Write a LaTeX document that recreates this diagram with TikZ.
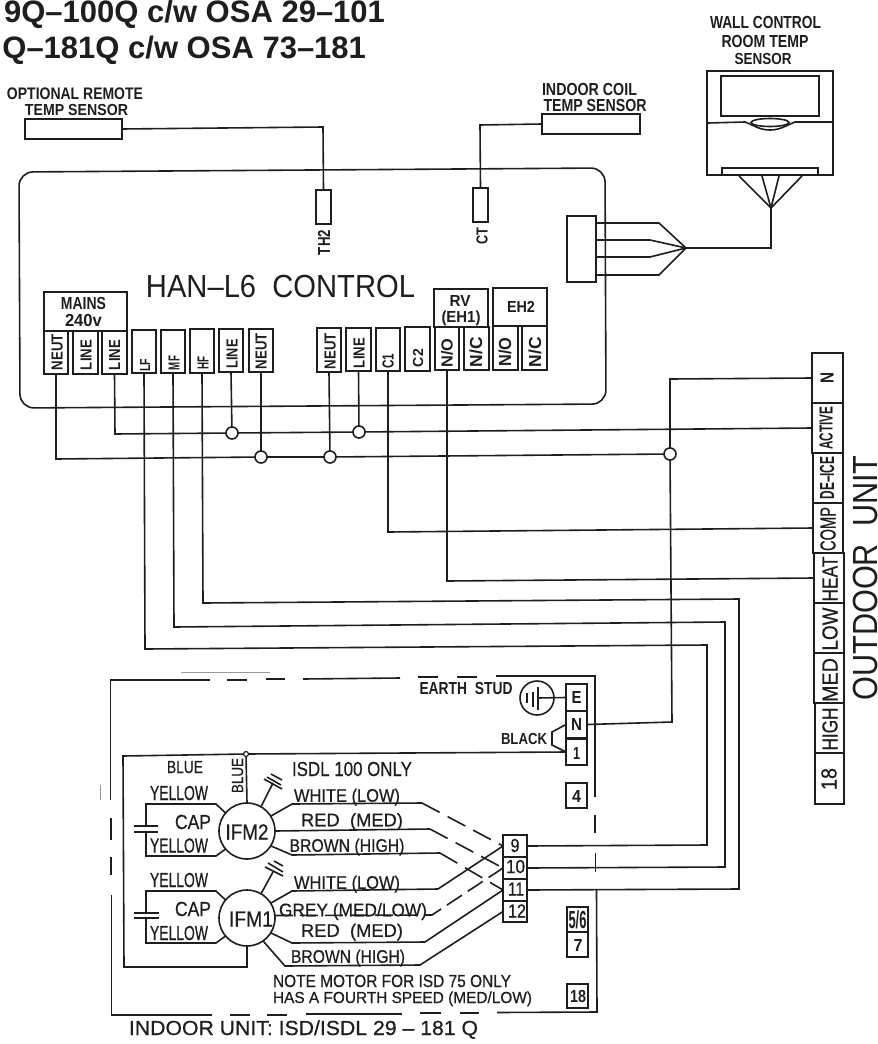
\documentclass[tikz,border=0pt]{standalone}
\usepackage{fontspec}
\usetikzlibrary{shapes.geometric}
\setmainfont{Liberation Sans}
\newfontface\medf[FakeBold=0.6]{Liberation Sans}
\definecolor{ink}{HTML}{1E1E1E}
\newcounter{labc}
\newcommand{\capbox}[1]{\raisebox{0pt}[\fontcharht\font`H][0pt]{#1}}
% \lb[rotation]{cx}{cy}{width}{height}{text}: the given height is the capital height
\newcommand{\lb}[6][0]{\stepcounter{labc}\node[lab,rotate=#1] (lab\thelabc) at (#2,#3) {\resizebox{#4pt}{#5pt}{\capbox{#6}}};}
\newcommand{\mlb}[6][0]{\stepcounter{labc}\node[lab,rotate=#1] (lab\thelabc) at (#2,#3) {\resizebox{#4pt}{#5pt}{\medf\capbox{#6}}};}
\newcommand{\blb}[6][0]{\stepcounter{labc}\node[lab,rotate=#1] (lab\thelabc) at (#2,#3) {\resizebox{#4pt}{#5pt}{\bfseries\capbox{#6}}};}
% \tm{name}{x1}{x2}{y1}{y2}
\newcommand{\tm}[5]{\node[tbox,minimum width={(#3-#2)*1pt},minimum height={(#5-#4)*1pt}] (#1) at ({(#2+#3)/2},{(#4+#5)/2}) {};}
\tikzset{
  lab/.style={inner sep=0pt,outer sep=0pt,text=ink},
  tbox/.style={draw=ink,line width=1.6pt,inner sep=0pt,outer sep=0pt,rectangle},
  wire/.style={draw=ink,line width=1.6pt,line join=miter},
  jn/.style={draw=ink,line width=1.6pt,circle,fill=white,minimum size=12pt,inner sep=0pt,outer sep=0pt},
  dashwire/.style={wire,dash pattern=on 20pt off 9pt},
  motor/.style={draw=ink,line width=1.6pt,circle,minimum size=56pt,inner sep=0pt,outer sep=0pt},
  faint/.style={draw=ink!45,line width=0.6pt}
}
\begin{document}
\begin{tikzpicture}[x=1pt,y=-1pt]
\clip (0,0) rectangle (878,1044);
\fill[white] (0,0) rectangle (878,1044);
% title
\node[lab,anchor=base east,font=\fontsize{31}{34}\selectfont\bfseries] (title1) at (385,22.7) {9Q–100Q c/w OSA 29–101};
\node[lab,anchor=base east,font=\fontsize{31}{34}\selectfont\bfseries] (title2) at (366,58.6) {Q–181Q c/w OSA 73–181};
% control board outline
\draw[wire,rounded corners=14pt] (19,172) -- (605,168) -- (606,404) -- (20,408) -- cycle;
\lb{280.5}{286}{269}{22}{HAN–L6\ \ CONTROL}
% sensors
\blb{75}{93.5}{136}{11.5}{OPTIONAL REMOTE}
\blb{76.5}{110}{103}{11}{TEMP SENSOR}
\tm{sRemote}{25}{122}{119}{139}
\tm{sTH}{316}{331}{190}{224}
\blb[90]{324}{242.5}{25}{12}{TH2}
\draw[wire] (sRemote.east) -- (323,127) -- (sTH.north);
\blb{589.5}{89}{95}{12}{INDOOR COIL}
\blb{595}{105}{103}{12}{TEMP SENSOR}
\tm{sCoil}{542}{640}{114}{134}
\tm{sCT}{473}{488}{188}{222}
\blb[90]{482}{236}{17}{11}{CT}
\draw[wire] (sCoil.west) -- (480,125) -- (sCT.north);
% wall control
\blb{765.5}{23}{111}{12}{WALL CONTROL}
\blb{765}{41}{87}{12}{ROOM TEMP}
\blb{763}{58.5}{57}{11}{SENSOR}
\tm{wall}{707}{833}{71}{175}
\tm{wallScreen}{721}{819}{76}{116}
\tm{wallStrip}{722}{818}{168}{175}
\draw[wire] (708,123) -- (745,122) .. controls (755,126) and (760,130) .. (770,130) .. controls (780,130) and (785,126) .. (795,122) -- (833,122);
\node[draw=ink,line width=1.6pt,ellipse,minimum width=38pt,minimum height=8pt,inner sep=0pt] (wallOval) at (770,122.5) {};
\tm{conn}{567}{596}{216}{282}
\coordinate (fanW) at (771,208);
\coordinate (fanC) at (686,248);
\foreach \xx in {739,762,779,802} {\draw[wire] (\xx,176) -- (fanW);}
\draw[wire] (fanW) -- (771,248) -- (fanC);
\draw[wire] (596,223) -- (659,223) -- (fanC);
\draw[wire] (596,240) -- (650,240) -- (fanC);
\draw[wire] (596,257) -- (650,257) -- (fanC);
\draw[wire] (596,275) -- (659,275) -- (fanC);
% terminals on board
\tm{mainsBox}{44}{127}{292}{331}
\blb{83.5}{303}{45}{12}{MAINS}
\blb{83.5}{320}{37}{12}{240v}
\tm{tNa}{44}{68}{331}{374}
\tm{tLa}{73}{98}{331}{374}
\tm{tLb}{102}{127}{331}{374}
\tm{tLF}{132}{156}{330}{373}
\tm{tMF}{161}{185}{330}{373}
\tm{tHF}{190}{214}{329}{373}
\tm{tLc}{219}{243}{329}{372}
\tm{tNb}{249}{273}{329}{372}
\tm{tNc}{317}{341}{328}{372}
\tm{tLd}{346}{371}{328}{371}
\tm{tCa}{376}{400}{328}{371}
\tm{tCb}{405}{430}{327}{371}
\tm{rvBox}{434}{488}{289}{327}
\tm{tNOa}{435}{459}{327}{370}
\tm{tNCa}{464}{489}{327}{370}
\tm{ehBox}{493}{547}{288}{326}
\tm{tNOb}{493}{518}{326}{370}
\tm{tNCb}{522}{547}{326}{370}
\blb{460}{300.5}{21}{11}{RV}
\blb{461}{316.5}{39}{11}{(EH1)}
\blb{521}{307}{28}{11}{EH2}
\blb[90]{57}{352}{36}{11}{NEUT}
\blb[90]{86}{355}{30}{11}{LINE}
\blb[90]{114.5}{355}{30}{11}{LINE}
\blb[90]{145}{365}{13}{10}{LF}
\blb[90]{174}{363}{14}{11}{MF}
\blb[90]{203}{363}{13}{11}{HF}
\blb[90]{232}{354}{29}{11}{LINE}
\blb[90]{261}{351}{36}{11}{NEUT}
\blb[90]{330}{351}{36}{11}{NEUT}
\blb[90]{359}{353}{30}{11}{LINE}
\blb[90]{388}{361}{15}{11}{C1}
\blb[90]{418}{358}{18}{10}{C2}
\blb[90]{447}{353}{29}{11}{N/O}
\blb[90]{476}{352}{30}{12}{N/C}
\blb[90]{505}{352}{29}{12}{N/O}
\blb[90]{535}{352}{30}{12}{N/C}
% junctions
\node[jn] (j1) at (232,433) {};
\node[jn] (j2) at (359,432) {};
\node[jn] (j3) at (261,457) {};
\node[jn] (j4) at (330,457) {};
\node[jn] (j5) at (670,454) {};
% outdoor strip
\tm{oN}{812}{843}{353}{403}
\tm{oA}{812}{843}{403}{453}
\tm{oD}{813}{843}{453}{503}
\tm{oC}{813}{843}{503}{553}
\tm{oH}{814}{844}{553}{603}
\tm{oL}{814}{844}{603}{653}
\tm{oM}{814}{844}{653}{703}
\tm{oHi}{815}{844}{703}{753}
\tm{o18}{815}{844}{753}{804}
\blb[90]{827}{378}{11}{13}{N}
\blb[90]{826}{428}{43}{13}{ACTIVE}
\blb[90]{827}{478}{43}{14}{DE–ICE}
\mlb[90]{828}{529}{44}{15}{COMP}
\mlb[90]{830}{579}{45}{15}{HEAT}
\mlb[90]{830}{629}{43}{15}{LOW}
\mlb[90]{830}{680}{44}{15}{MED}
\mlb[90]{830}{729}{43}{15}{HIGH}
\mlb[90]{829}{779}{22}{15}{18}
\lb[90]{865}{578}{245}{24}{OUTDOOR\ \ UNIT}
% indoor terminals
\tm{tE}{566}{587}{684}{711}
\tm{tN}{566}{587}{711}{738}
\tm{t1}{566}{587}{739}{765}
\tm{t4}{566}{587}{783}{808}
\tm{t56}{567}{588}{907}{932}
\tm{t7}{567}{588}{932}{957}
\tm{t18}{567}{588}{984}{1008}
\blb{576.5}{697.5}{10}{12}{E}
\blb{576.5}{724.5}{11}{12}{N}
\blb{576.5}{753}{7}{12}{1}
\blb{576.5}{796}{9}{12}{4}
\blb{577.5}{920}{18}{17}{5/6}
\blb{578}{945}{9}{12}{7}
\blb{578}{996}{16}{12}{18}
\tm{t9}{503}{527}{835}{857}
\tm{t10}{503}{527}{857}{879}
\tm{t11}{503}{527}{879}{901}
\tm{t12}{503}{527}{901}{922}
\mlb{515}{845.5}{9}{13}{9}
\mlb{515.5}{866.5}{19}{13}{10}
\mlb{516}{889}{16}{13}{11}
\mlb{517}{911}{18}{13}{12}
% mains wiring
\draw[wire] (tNa.south) -- (56,459) -- (j3);
\draw[wire] (j3) -- (j4);
\draw[wire] (j4) -- (j5);
\draw[wire] (tNb.south) -- (j3);
\draw[wire] (tNc.south) -- (j4);
\draw[wire] (tLb.south) -- (115,434) -- (j1);
\draw[wire] (j1) -- (j2);
\draw[wire] (j2) -- (oA.west);
\draw[wire] (tLc.south) -- (j1);
\draw[wire] (tLd.south) -- (j2);
\draw[wire] (oN.west) -- (670,379) -- (j5);
\draw[wire] (j5) -- (672,722) -- (tN.east);
\draw[wire] (tCa.south) -- (388,532) -- (oC.west);
\draw[wire] (tNOa.south) -- (447,581) -- (oH.west);
\draw[wire] (tHF.south) -- (203,603) -- (739,599) -- (739,889) -- (t11.east);
\draw[wire] (tMF.south) -- (174,627) -- (725,622) -- (725,867) -- (t10.east);
\draw[wire] (tLF.south) -- (145,649) -- (707,645) -- (707,845) -- (t9.east);
% indoor unit dashed border
\draw[wire] (110.5,800) -- (110.5,680) -- (210,680);
\draw[wire] (227,680) -- (247,680);
\draw[wire] (266,679) -- (285,679);
\draw[wire] (303,679) -- (400,678);
\draw[wire] (418,677) -- (438,677);
\draw[wire] (457,677) -- (477,677);
\draw[wire] (496,676) -- (595,676) -- (595,797);
\draw[wire] (595,815) -- (595,833);
\draw[wire] (595.5,853) -- (595.5,872);
\draw[wire] (596.5,890) -- (597,1012) -- (497,1012.5);
\draw[wire] (479,1013) -- (460,1013);
\draw[wire] (441,1013) -- (420,1013);
\draw[wire] (402,1014) -- (306,1014);
\draw[wire] (287,1015) -- (267,1015);
\draw[wire] (250,1015) -- (230,1015);
\draw[wire] (212,1015) -- (111.5,1015) -- (111.5,895);
\draw[wire] (111,875) -- (111,857);
\draw[wire] (111,840) -- (111,818);
\draw[faint] (181,672) -- (270,672);
\draw[faint] (100,785) -- (100,800);
% earth stud
\blb{466}{688}{93}{12}{EARTH\ \ STUD}
\node[draw=ink,line width=1.6pt,circle,minimum size=34pt,inner sep=0pt] (earth) at (537,698) {};
\draw[wire] (527,693) -- (527,703);
\draw[wire] (533,692) -- (533,707);
\draw[wire] (538,687) -- (538,710);
\draw[wire] (538,698) -- (tE.west);
\blb{524}{739}{46}{11}{BLACK}
\draw[wire] (tN.west) -- (552,732) -- (552,745) -- (t1.west);
% motors
\node[motor] (m2) at (247,831) {};
\node[motor] (m1) at (247,918) {};
\mlb{247}{832}{43}{15}{IFM2}
\mlb{251}{919}{44}{15}{IFM1}
\node[draw=ink,line width=1.2pt,circle,minimum size=5pt,inner sep=0pt] (j6) at (246,754) {};
\draw[wire] (t1.west) -- (j6);
\draw[wire] (j6) -- (123,756) -- (124,967) -- (247,967) -- (m1.south);
\draw[wire] (j6) -- (m2.north);
\mlb{185}{767}{36}{12}{BLUE}
\mlb[90]{237.5}{775.5}{35}{11}{BLUE}
\mlb{179}{793}{58}{14}{YELLOW}
\mlb{193}{822}{36}{14}{CAP}
\mlb{179}{845.5}{58}{14}{YELLOW}
\mlb{179}{880}{58}{14}{YELLOW}
\mlb{193}{909}{36}{14}{CAP}
\mlb{179}{933}{58}{14}{YELLOW}
\mlb{352}{769}{120}{14}{ISDL 100 ONLY}
\mlb{347}{795.5}{106}{12.5}{WHITE (LOW)}
\mlb{352}{820}{102}{12.5}{RED\ \ (MED)}
\mlb{347}{845.5}{115}{12.5}{BROWN (HIGH)}
\mlb{347}{882.5}{106}{12.5}{WHITE (LOW)}
\mlb{353}{910}{148}{12.5}{GREY (MED/LOW)}
\mlb{352}{930.5}{102}{12.5}{RED\ \ (MED)}
\mlb{348}{956.5}{114}{12.5}{BROWN (HIGH)}
\mlb{392}{981}{238}{12}{NOTE MOTOR FOR ISD 75 ONLY}
\mlb{402.5}{997.5}{259}{11}{HAS A FOURTH SPEED (MED/LOW)}
\mlb{303.5}{1028}{349}{14}{INDOOR UNIT: ISD/ISDL 29 – 181 Q}
% capacitor IFM2
\draw[wire] (m2.140) -- (216,804) -- (146,804) -- (146,826);
\draw[wire] (m2.-140) -- (216,856) -- (146,856) -- (146,832);
\draw[wire] (134,826) -- (158,826);
\draw[wire] (134,832) -- (158,832);
% capacitor IFM1
\draw[wire] (m1.140) -- (216,891) -- (146,891) -- (146,913);
\draw[wire] (m1.-140) -- (216,943) -- (146,943) -- (146,918);
\draw[wire] (134,913) -- (159,913);
\draw[wire] (134,918) -- (159,918);
% stubs with ticks
\draw[wire] (m2.60) -- (273,783);
\draw[wire] (264,779) -- (282,789);
\draw[wire] (267,777) -- (281,785);
\draw[wire] (271,774) -- (282,780);
\draw[wire] (m1.60) -- (273,872);
\draw[wire] (265,867) -- (283,876);
\draw[wire] (268,863) -- (283,872);
\draw[wire] (274,861) -- (283,866);
% IFM2 speeds (solid run, dashed to terminals)
\coordinate (w2a) at (422,803);
\coordinate (w2b) at (430,829);
\coordinate (w2c) at (440,853);
\draw[wire] (m2.32) -- (292,804) -- (w2a);
\draw[dashwire] (w2a) -- (t9.west);
\draw[wire] (m2.east) -- (w2b);
\draw[dashwire] (w2b) -- (t10.west);
\draw[wire] (m2.-32) -- (292,855) -- (w2c);
\draw[dashwire] (w2c) -- (t11.west);
% IFM1 speeds
\draw[wire] (m1.32) -- (292,891) -- (438,889) -- (t9.west);
\draw[wire,dash pattern=on 18pt off 7pt] (m1.5) -- (276,915.5) -- (432,915) -- (t10.west);
\draw[wire] (m1.-32) -- (292,943) -- (425,942) -- (t11.west);
\draw[wire] (m1.-55) -- (285,966) -- (420,965) -- (t12.west);
\end{tikzpicture}
\end{document}
